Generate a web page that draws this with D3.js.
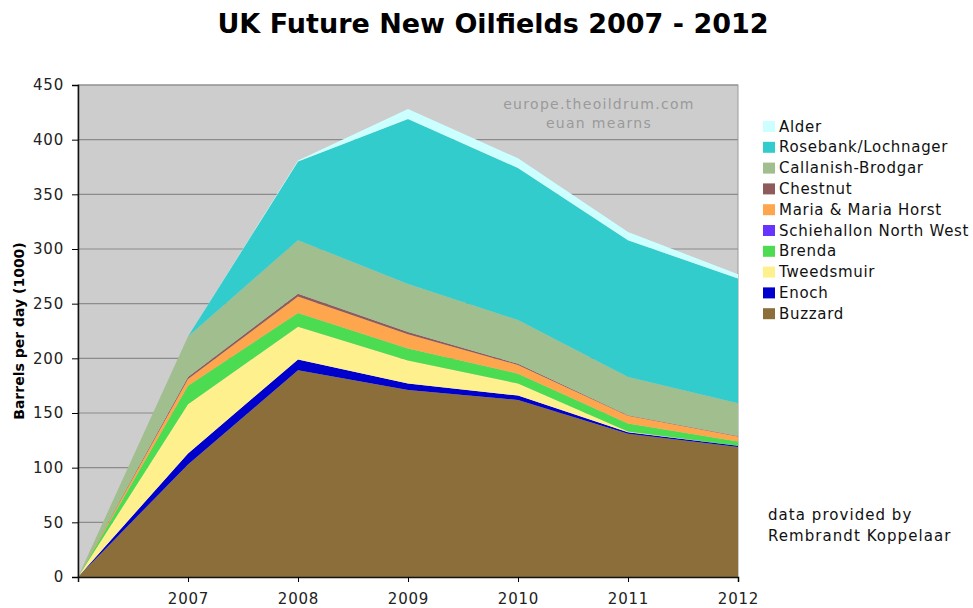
<!DOCTYPE html>
<html>
<head>
<meta charset="utf-8">
<script src="https://cdn.jsdelivr.net/npm/d3@7"></script>
<style>
  body { margin: 0; background: #fff; }
  svg { display: block; font-family: "DejaVu Sans", Verdana, sans-serif; }
</style>
</head>
<body>
<div id="chart-area"><svg></svg></div>
<script>
const chartSize = { width: 973, height: 608 };
const margin = { left: 78, right: 235, top: 85, bottom: 31 };

const width = chartSize.width - margin.left - margin.right;
const height = chartSize.height - margin.top - margin.bottom;

// data, thousand barrels per day
const years = [2006, 2007, 2008, 2009, 2010, 2011, 2012];
const buzzard = [0, 103, 189, 171, 162, 131, 119];
const enoch = [0, 10, 10, 6, 4, 1.5, 1];
const tweedsmuir = [0, 45, 30, 21, 11, 0.5, 0];
const brenda = [0, 17, 12.5, 11, 9, 7.5, 4];
const schiehallon = [0, 0, 0, 0, 0, 0, 0];
const maria = [0, 6, 15, 13, 8, 7, 4.5];
const chestnut = [0, 2, 2.5, 2, 1, 0.5, 0.5];
const callanish = [0, 37, 49, 44, 40, 35, 30];
const rosebank = [0, 0, 72, 151, 139, 125, 114];
const alder = [0, 0, 1, 9, 9, 7.5, 4];

const fieldNames = ["Buzzard", "Enoch", "Tweedsmuir", "Brenda", "Schiehallon North West",
  "Maria & Maria Horst", "Chestnut", "Callanish-Brodgar", "Rosebank/Lochnager", "Alder"];
const fieldValues = [buzzard, enoch, tweedsmuir, brenda, schiehallon, maria, chestnut, callanish, rosebank, alder];
const fieldColors = ["#8c6e3a", "#0000cc", "#fff08e", "#4cdc52", "#6633ff",
  "#fda64e", "#8e5a5a", "#a0be8e", "#33cccc", "#ccffff"];

const yTicks = [0, 50, 100, 150, 200, 250, 300, 350, 400, 450];
const xTicks = [2007, 2008, 2009, 2010, 2011, 2012];

const styleTicks = g => g.selectAll("text")
  .attr("font-size", 15)
  .attr("letter-spacing", 0.8)
  .attr("fill", "#222")
  .attr("font-family", "DejaVu Sans");

const drawChart = () => {
  const svg = d3.select("#chart-area svg")
    .attr("width", chartSize.width)
    .attr("height", chartSize.height);

  const rows = years.map((year, i) => {
    const row = { year };
    fieldNames.forEach((name, k) => row[name] = fieldValues[k][i]);
    return row;
  });

  const x = d3.scaleLinear().domain([2006, 2012]).range([0, width]);
  const y = d3.scaleLinear().domain([0, 450]).range([height, 0]);
  const color = d3.scaleOrdinal().domain(fieldNames).range(fieldColors);

  svg.append("text")
    .attr("x", 493)
    .attr("y", 33)
    .attr("text-anchor", "middle")
    .attr("font-size", 27)
    .attr("font-weight", "bold")
    .text("UK Future New Oilfields 2007 - 2012");

  const plotG = svg.append("g")
    .attr("transform", `translate(${margin.left},${margin.top})`);

  plotG.append("rect")
    .attr("width", width)
    .attr("height", height)
    .attr("fill", "#cdcdcd")
    .attr("stroke", "#9a9a9a");

  plotG.append("g")
    .selectAll("line")
    .data(yTicks.slice(1))
    .join("line")
    .attr("x1", 0)
    .attr("x2", width)
    .attr("y1", d => y(d))
    .attr("y2", d => y(d))
    .attr("stroke", "#8c8c8c")
    .attr("stroke-width", 1.2);

  plotG.append("g")
    .attr("fill", "#9a9a9a")
    .attr("font-size", 14)
    .attr("letter-spacing", 1.3)
    .attr("text-anchor", "middle")
    .selectAll("text")
    .data(["europe.theoildrum.com", "euan mearns"])
    .join("text")
    .attr("x", 521)
    .attr("y", (d, i) => 24 + i * 19)
    .text(d => d);

  const series = d3.stack().keys(fieldNames)(rows);
  const area = d3.area()
    .x(d => x(d.data.year))
    .y0(d => y(d[0]))
    .y1(d => y(d[1]));

  plotG.append("g")
    .selectAll("path")
    .data(series)
    .join("path")
    .attr("fill", s => color(s.key))
    .attr("d", area);

  const yAxis = d3.axisLeft(y)
    .tickValues(yTicks)
    .tickSize(6)
    .tickPadding(8);

  plotG.append("g")
    .attr("class", "y-axis")
    .call(yAxis)
    .call(g => g.select(".domain").attr("stroke", "#111").attr("stroke-width", 1.5))
    .call(styleTicks);

  const xAxis = d3.axisBottom(x)
    .tickValues(xTicks)
    .tickFormat(d3.format("d"))
    .tickSize(5)
    .tickPadding(11);

  plotG.append("g")
    .attr("class", "x-axis")
    .attr("transform", `translate(0,${height})`)
    .call(xAxis)
    .call(g => g.select(".domain").attr("stroke", "#111").attr("stroke-width", 1.5))
    .call(styleTicks);

  svg.append("text")
    .attr("transform", `translate(24,${margin.top + height / 2}) rotate(-90)`)
    .attr("text-anchor", "middle")
    .attr("font-size", 14)
    .attr("font-weight", "bold")
    .text("Barrels per day (1000)");

  const legend = svg.append("g")
    .attr("transform", "translate(763,121)")
    .selectAll("g")
    .data(fieldNames.slice().reverse())
    .join("g")
    .attr("transform", (d, i) => `translate(0,${i * 20.8})`);

  legend.append("rect")
    .attr("width", 12)
    .attr("height", 11)
    .attr("fill", d => color(d));

  legend.append("text")
    .attr("x", 16)
    .attr("y", 10.5)
    .attr("font-size", 15)
    .attr("letter-spacing", 0.7)
    .attr("fill", "#111")
    .text(d => d);

  svg.append("g")
    .attr("font-size", 15)
    .attr("letter-spacing", 1.05)
    .attr("fill", "#111")
    .selectAll("text")
    .data(["data provided by", "Rembrandt Koppelaar"])
    .join("text")
    .attr("x", 768)
    .attr("y", (d, i) => 520 + i * 21)
    .text(d => d);
};

window.onload = drawChart;
</script>
</body>
</html>
